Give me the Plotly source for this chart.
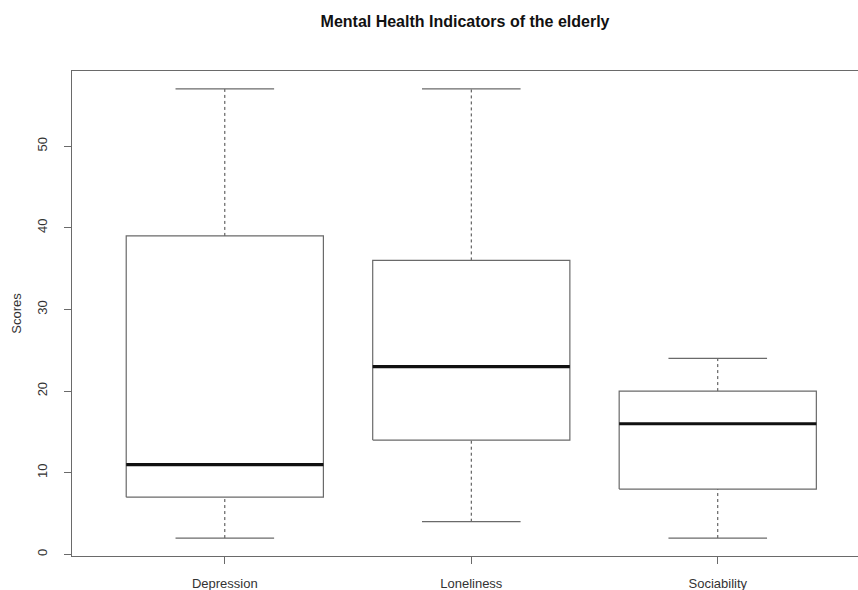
import plotly.graph_objects as go

categories = ["Depression", "Loneliness", "Sociability"]
lower_whisker = [2, 4, 2]
q1 = [7, 14, 8]
median = [11, 23, 16]
q3 = [39, 36, 20]
upper_whisker = [57, 57, 24]
y_ticks = [0, 10, 20, 30, 40, 50]

BOX_HALF = 0.4
CAP_HALF = 0.2
GRAY = "#6a6a6a"
FONT = "Liberation Sans, Arial, sans-serif"

fig = go.Figure()

for i, cat in enumerate(categories):
    x = i + 1
    # dashed whiskers
    fig.add_trace(go.Scatter(x=[x, x], y=[q3[i], upper_whisker[i]], mode="lines",
                             line=dict(color="#444", width=1, dash="3px,3px"), hoverinfo="skip"))
    fig.add_trace(go.Scatter(x=[x, x], y=[lower_whisker[i], q1[i]], mode="lines",
                             line=dict(color="#444", width=1, dash="3px,3px"), hoverinfo="skip"))
    # caps
    for v in (upper_whisker[i], lower_whisker[i]):
        fig.add_trace(go.Scatter(x=[x - CAP_HALF, x + CAP_HALF], y=[v, v], mode="lines",
                                 line=dict(color=GRAY, width=1.2), hoverinfo="skip"))
    # box
    fig.add_trace(go.Scatter(x=[x - BOX_HALF, x + BOX_HALF, x + BOX_HALF, x - BOX_HALF, x - BOX_HALF],
                             y=[q1[i], q1[i], q3[i], q3[i], q1[i]], mode="lines",
                             line=dict(color=GRAY, width=1.2), fill="toself", fillcolor="white",
                             name=cat))
    # median
    fig.add_trace(go.Scatter(x=[x - BOX_HALF, x + BOX_HALF], y=[median[i], median[i]], mode="lines",
                             line=dict(color="#111", width=3.2), hoverinfo="skip"))

fig.update_layout(
    width=858, height=590,
    margin=dict(l=72, r=0, t=71, b=34),
    paper_bgcolor="white", plot_bgcolor="white",
    showlegend=False,
    font=dict(family=FONT, size=13, color="#333"),
    title=dict(text="<b>Mental Health Indicators of the elderly</b>",
               x=0.542, xanchor="center", y=1 - 21 / 590, yanchor="middle",
               font=dict(family=FONT, size=16, color="#111")),
    xaxis=dict(range=[0.38, 3.569], tickmode="array", tickvals=[1, 2, 3], ticktext=categories,
               showgrid=False, zeroline=False, showline=True, mirror=True, linecolor=GRAY, linewidth=1.2,
               ticks="outside", ticklen=7, tickcolor=GRAY, ticklabelstandoff=8),
    yaxis=dict(range=[-0.2, 59.2], tickmode="array", tickvals=y_ticks, tickangle=-90,
               showgrid=False, zeroline=False, showline=True, mirror=False, linecolor=GRAY, linewidth=1.2,
               ticks="outside", ticklen=7, tickcolor=GRAY, ticklabelstandoff=12,
               title=dict(text="Scores", standoff=10, font=dict(family=FONT, size=13, color="#333"))),
)

fig.write_html("out.html")
